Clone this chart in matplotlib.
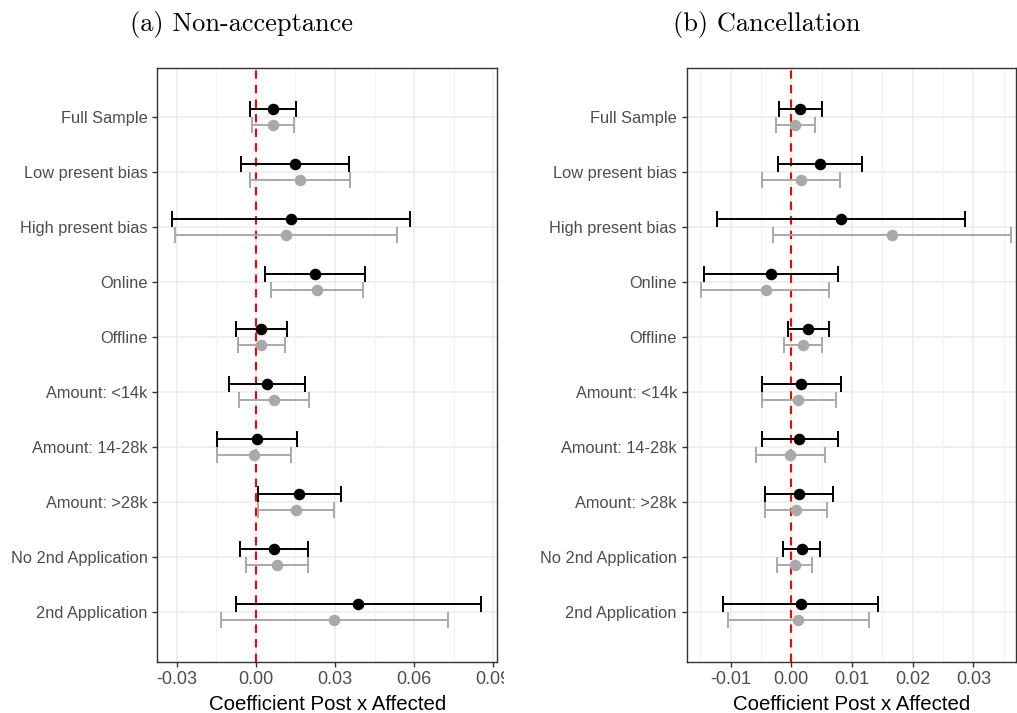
import numpy as np
import matplotlib
matplotlib.use("Agg")
import matplotlib.pyplot as plt
from matplotlib.transforms import Bbox, TransformedBbox

# data
groups = ["Full Sample", "Low present bias", "High present bias", "Online", "Offline",
          "Amount: <14k", "Amount: 14-28k", "Amount: >28k", "No 2nd Application", "2nd Application"]

# (a) non-acceptance: black = main estimate, gray = alternative
na_est = [0.0066, 0.0149, 0.0135, 0.0223, 0.0021, 0.0042, 0.0005, 0.0165, 0.0069, 0.0389]
na_lo = [-0.0022, -0.0056, -0.0316, 0.0035, -0.0076, -0.0101, -0.0148, 0.0010, -0.0059, -0.0075]
na_hi = [0.0153, 0.0352, 0.0583, 0.0414, 0.0119, 0.0187, 0.0155, 0.0322, 0.0197, 0.0855]
na_est2 = [0.0066, 0.0169, 0.0115, 0.0233, 0.0021, 0.0069, -0.0008, 0.0153, 0.0081, 0.0298]
na_lo2 = [-0.0015, -0.0022, -0.0305, 0.0057, -0.0068, -0.0063, -0.0148, 0.0010, -0.0037, -0.0131]
na_hi2 = [0.0145, 0.0356, 0.0534, 0.0408, 0.0111, 0.0203, 0.0134, 0.0298, 0.0199, 0.0727]

# (b) cancellation
ca_est = [0.0015, 0.0047, 0.0081, -0.0033, 0.0028, 0.0016, 0.0013, 0.0012, 0.0018, 0.0016]
ca_lo = [-0.0021, -0.0022, -0.0123, -0.0144, -0.0006, -0.0049, -0.0049, -0.0043, -0.0013, -0.0113]
ca_hi = [0.0050, 0.0117, 0.0286, 0.0077, 0.0062, 0.0081, 0.0077, 0.0068, 0.0047, 0.0143]
ca_est2 = [0.0006, 0.0016, 0.0165, -0.0042, 0.0019, 0.0011, -0.0002, 0.0007, 0.0006, 0.0011]
ca_lo2 = [-0.0026, -0.0048, -0.0031, -0.0148, -0.0012, -0.0049, -0.0059, -0.0043, -0.0023, -0.0104]
ca_hi2 = [0.0039, 0.0080, 0.0361, 0.0062, 0.0051, 0.0073, 0.0056, 0.0058, 0.0034, 0.0128]

na_ticks = [-0.03, 0.00, 0.03, 0.06, 0.09]
na_labels = ['-0.03', '0.00', '0.03', '0.06', '0.09']
ca_ticks = [-0.01, 0.00, 0.01, 0.02, 0.03]
ca_labels = ['-0.01', '0.00', '0.01', '0.02', '0.03']

plt.rcParams['font.family'] = ['Liberation Sans', 'DejaVu Sans']

fig = plt.figure(figsize=(10.17, 7.13), dpi=100)
ax1 = fig.add_axes([0.1547, 0.072, 0.334, 0.8327])
ax2 = fig.add_axes([0.6752, 0.072, 0.3238, 0.8327])

pos = np.arange(len(groups))
dodge = 0.145


def panel(ax, est, lo, hi, est2, lo2, hi2, ticks, labels, xlim, minor):
    ax.set_facecolor('white')
    for y in pos:
        ax.axhline(y, color='#EBEBEB', lw=1.1, zorder=0)
    for x in ticks:
        ax.axvline(x, color='#EBEBEB', lw=1.1, zorder=0)
    for x in minor:
        ax.axvline(x, color='#F2F2F2', lw=0.8, zorder=0)
    ax.axvline(0, color='#FF0000', lw=1.5, ls=(0, (4, 3)), zorder=1)
    e = np.array(est); e2 = np.array(est2)
    ax.errorbar(e, pos - dodge, xerr=[e - np.array(lo), np.array(hi) - e], fmt='o',
                color='black', ms=7.3, elinewidth=1.4, capsize=5.5, capthick=1.4, zorder=4)
    ax.errorbar(e2, pos + dodge, xerr=[e2 - np.array(lo2), np.array(hi2) - e2], fmt='o',
                color='#A9A9A9', ms=7.3, elinewidth=1.4, capsize=5.5, capthick=1.4, zorder=3)
    ax.set_ylim(len(groups) - 1 + 0.9, -0.9)
    ax.set_xlim(*xlim)
    ax.set_yticks(pos)
    ax.set_yticklabels(groups, fontsize=11.8)
    ax.set_xticks(ticks)
    ax.set_xticklabels(labels, fontsize=13)
    ax.tick_params(colors='#333333', labelcolor='#4D4D4D', length=3.5, width=1)
    ax.tick_params(axis='x', pad=3)
    for s in ax.spines.values():
        s.set_color('#333333')
        s.set_linewidth(1)
    ax.set_xlabel('Coefficient Post x Affected', fontsize=14.7, color='black', labelpad=5)


panel(ax1, na_est, na_lo, na_hi, na_est2, na_lo2, na_hi2, na_ticks, na_labels,
      (-0.0373, 0.0914), [-0.015, 0.015, 0.045, 0.075])
panel(ax2, ca_est, ca_lo, ca_hi, ca_est2, ca_lo2, ca_hi2, ca_ticks, ca_labels,
      (-0.01724, 0.0370), [-0.015, -0.005, 0.005, 0.015, 0.025, 0.035])

fig.text(0.2375, 0.966, '(a) Non-acceptance', family='cmr10', fontsize=19, ha='center', va='center')
fig.text(0.754, 0.966, '(b) Cancellation', family='cmr10', fontsize=19, ha='center', va='center')

# left panel's last tick label is cut off at the panel edge
clip = TransformedBbox(Bbox([[0, 0], [504 / 1017, 1]]), fig.transFigure)
for lab in ax1.get_xticklabels():
    lab.set_clip_box(clip)
    lab.set_clip_on(True)

fig.savefig('out.png', dpi=100)
